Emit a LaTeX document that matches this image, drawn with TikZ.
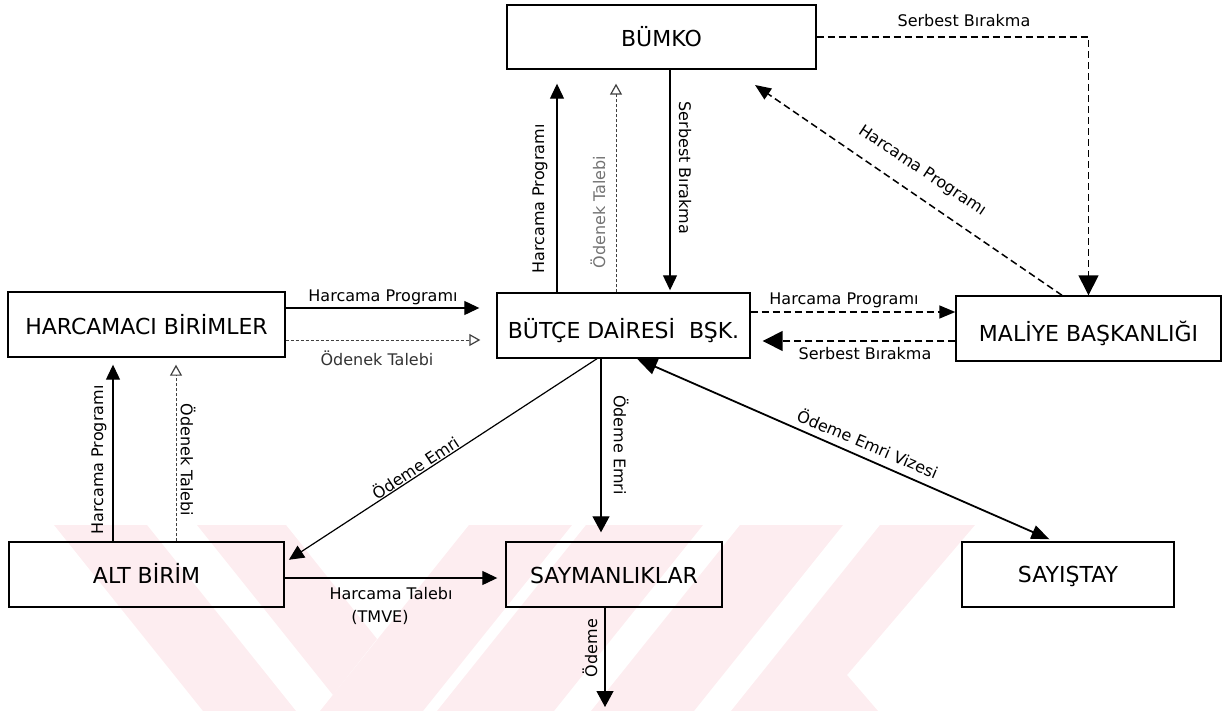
\documentclass[tikz,border=0pt]{standalone}
\usepackage{fontspec}
\setmainfont{DejaVu Sans}
\usetikzlibrary{arrows.meta}
\definecolor{wmpink}{RGB}{253,237,240}
\definecolor{faint}{gray}{0.45}
\begin{document}
\begin{tikzpicture}[x=0.5pt,y=-0.5pt,
  box/.style={draw, line width=0.7pt, inner sep=0pt, font=\fontsize{11}{13}\selectfont, text depth=0pt, minimum height=32.5pt},
  lbl/.style={font=\fontsize{8}{9.6}\selectfont, inner sep=0pt},
  fwd/.style={line width=0.6pt, -{Triangle[length=7.5pt,width=7pt]}},
  fwdL/.style={line width=0.6pt, -{Triangle[length=8pt,width=8.5pt]}},
  dsh/.style={line width=0.75pt, dash pattern=on 3.5pt off 2pt, -{Triangle[length=8pt,width=6.5pt]}},
  dshL/.style={line width=0.75pt, dash pattern=on 3.5pt off 2pt, -{Triangle[length=10pt,width=10pt]}},
  req/.style={line width=0.4pt, draw=black!75, dash pattern=on 1.5pt off 1pt, -{Triangle[open,length=5.5pt,width=6pt,line width=0.6pt]}},
  both/.style={line width=0.9pt, {Triangle[length=10pt,width=8pt]}-{Triangle[length=9pt,width=7pt]}}]
\useasboundingbox (0,0) rectangle (1225,711);

% background emblem stripes
\fill[wmpink] (54,525) -- (147,525) -- (296,711) -- (203,711) -- cycle;
\fill[wmpink] (197,525) -- (286,525) -- (377,639) -- (333,695) -- cycle;
\fill[wmpink] (469,525) -- (572,525) -- (423,711) -- (320,711) -- cycle;
\fill[wmpink] (586,525) -- (703,525) -- (554,711) -- (437,711) -- cycle;
\fill[wmpink] (740,525) -- (843,525) -- (694,711) -- (591,711) -- cycle;
\fill[wmpink] (880,525) -- (975,525) -- (847,675) -- (878,711) -- (731,711) -- cycle;

% units
\node[box, minimum width=154.5pt, minimum height=32pt, text height=10pt] (bumko) at (661.5,37) {BÜMKO};
\node[box, minimum width=126.5pt, text height=12.5pt] (bdb) at (623.5,325.5) {BÜTÇE DAİRESİ\ \ BŞK.};
\node[box, minimum width=138.5pt, text height=9.5pt] (hb) at (146.5,324.5) {HARCAMACI BİRİMLER};
\node[box, minimum width=132.5pt, text height=13pt] (mb) at (1088.5,328.5) {MALİYE BAŞKANLIĞI};
\node[box, minimum width=137.5pt, text height=9pt] (ab) at (146.5,574.5) {ALT BİRİM};
\node[box, minimum width=108pt, text height=9pt] (saym) at (614,574.5) {SAYMANLIKLAR};
\node[box, minimum width=106pt, text height=8pt] (say) at (1068,574.5) {SAYIŞTAY};

% free ends
\coordinate (hpTip) at (755,85);
\coordinate (payOut) at (605,707);

% flows
\draw[fwd, shorten >=7pt] (bdb.north -| 557,0) -- (bumko.south -| 557,0);
\draw[req, shorten >=7pt] (bdb.north -| 616,0) -- (bumko.south -| 616,0);
\draw[fwd, shorten >=1pt] (bumko.south -| 670,0) -- (bdb.north -| 670,0);
\draw[dshL] (bumko.east) -| (mb.north);
\draw[dsh] (mb.north -| 1062,0) -- (hpTip);
\draw[dsh] (bdb.east |- 0,312) -- (mb.west |- 0,312);
\draw[dshL, shorten >=6pt] (mb.west |- 0,341) -- (bdb.east |- 0,341);
\draw[fwd, shorten >=8.5pt] (hb.east |- 0,308) -- (bdb.west |- 0,308);
\draw[req, shorten >=8pt] (hb.east |- 0,340) -- (bdb.west |- 0,340);
\draw[fwd, shorten >=3.5pt] (ab.north -| 113,0) -- (hb.south -| 113,0);
\draw[req, shorten >=3.5pt] (ab.north -| 176,0) -- (hb.south -| 176,0);
\draw[fwd, shorten >=2.5pt] (bdb.south -| 597,0) -- ([yshift=6pt]ab.east);
\draw[fwdL, shorten >=4.5pt] (bdb.south -| 601,0) -- (saym.north -| 601,0);
\draw[both, shorten >=2.5pt] (bdb.south -| 637,0) -- (say.north -| 1054,0);
\draw[fwd, shorten >=4pt] (ab.east |- 0,578) -- (saym.west |- 0,578);
\draw[fwdL] (saym.south -| 605,0) -- (payOut);

% flow labels
\node[lbl, rotate=90] (lHpB) at (540,199) {Harcama Programı};
\node[lbl, rotate=90, text=faint] (lOtB) at (598,212) {Ödenek Talebi};
\node[lbl, rotate=-90] (lSbB) at (685,168) {Serbest Bırakma};
\node[lbl] (lSbT) at (964,21) {Serbest Bırakma};
\node[lbl, rotate=-33.7] (lHpD) at (922,171) {Harcama Programı};
\node[lbl] (lHpH) at (383,297) {Harcama Programı};
\node[lbl, text=black!80] (lOtH) at (377,358) {Ödenek Talebi};
\node[lbl] (lHpM) at (844,300) {Harcama Programı};
\node[lbl] (lSbM) at (865,354) {Serbest Bırakma};
\node[lbl, rotate=33.3] (lOeA) at (415,467) {Ödeme Emri};
\node[lbl, rotate=-90] (lOeS) at (621,445) {Ödeme Emri};
\node[lbl, rotate=-23] (lViz) at (868,443) {Ödeme Emri Vizesi};
\node[lbl, rotate=90] (lHpA) at (99,460) {Harcama Programı};
\node[lbl, rotate=-90] (lOtA) at (188,460) {Ödenek Talebi};
\node[lbl] (lHt1) at (391,594) {Harcama Talebı};
\node[lbl] (lHt2) at (380,617) {(TMVE)};
\node[lbl, rotate=90] (lOd) at (590,648) {Ödeme};
\end{tikzpicture}
\end{document}
